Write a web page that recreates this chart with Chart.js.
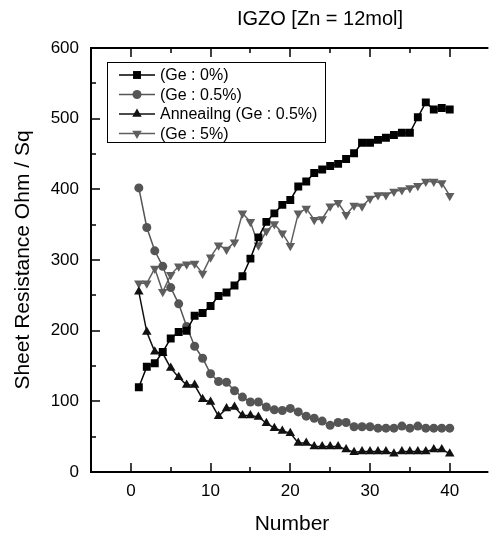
<!DOCTYPE html>
<html><head><meta charset="utf-8">
<script src="https://cdn.jsdelivr.net/npm/chart.js@4.4.1/dist/chart.umd.min.js"></script>
<style>
html,body{margin:0;padding:0;overflow:hidden;background:#fff;width:492px;height:540px}
</style>
</head><body><canvas id="c" width="492" height="540"></canvas>
<script>
const titleText = 'IGZO [Zn = 12mol]';
const xTitle = 'Number';
const yTitle = 'Sheet Resistance Ohm / Sq';
const seriesLabels = ['(Ge : 0%)', '(Ge : 0.5%)', 'Anneailng (Ge : 0.5%)', '(Ge : 5%)'];
const numbers = [1,2,3,4,5,6,7,8,9,10,11,12,13,14,15,16,17,18,19,20,21,22,23,24,25,26,27,28,29,30,31,32,33,34,35,36,37,38,39,40];
const ge0 = [120,149,154,170,189,198,200,221,225,235,249,254,264,277,302,332,354,366,378,385,404,411,423,428,433,436,443,451,466,466,470,473,477,480,480,502,523,513,515,513];
const ge05 = [402,346,313,291,261,238,206,178,161,139,128,127,115,106,99,99,92,88,87,90,85,79,76,72,66,70,70,64,64,64,62,62,62,65,62,65,62,62,62,62];
const anneal05 = [255,198,170,168,147,134,123,123,103,99,79,90,92,80,80,78,69,62,58,55,41,41,36,36,36,36,32,28,29,29,29,29,26,29,29,29,29,32,32,26];
const ge5 = [267,267,288,255,279,291,294,295,281,304,321,315,325,366,354,321,341,351,338,320,366,373,357,358,376,381,364,377,376,387,392,392,397,399,402,405,411,411,409,391];
const xTicks = [0,10,20,30,40];
const yTicks = [0,100,200,300,400,500,600];

const FONT = '"Liberation Sans", Arial, sans-serif';
const pts = arr => numbers.map((n,i)=>({x:n,y:arr[i]}));

function ds(label, arr, color, style, radius, rotation){
  return {label, data: pts(arr), borderColor: color, backgroundColor: color,
    pointBackgroundColor: color, pointBorderColor: color, pointStyle: style,
    pointRadius: radius, pointBorderWidth: 0, pointRotation: rotation || 0,
    borderWidth: 1.5, tension: 0, fill: false};
}

const framePlugin = {
  id: 'frame',
  beforeDatasetsDraw(chart){
    const {ctx, chartArea: a, scales: {x, y}} = chart;
    ctx.save();
    ctx.strokeStyle = '#000';
    ctx.lineWidth = 2;
    ctx.beginPath();
    ctx.moveTo(a.right + 2, a.top); ctx.lineTo(a.left, a.top);
    ctx.lineTo(a.left, a.bottom); ctx.lineTo(a.right + 2, a.bottom);
    ctx.stroke();
    ctx.lineWidth = 1.5;
    ctx.beginPath();
    const xs = x.ticks.map(t=>t.value);
    const xMinor = xs.map(v=>v+5).concat([xs[0]-5]);
    xs.forEach(v=>{const p=Math.round(x.getPixelForValue(v));
      ctx.moveTo(p,a.bottom); ctx.lineTo(p,a.bottom-9); ctx.moveTo(p,a.top); ctx.lineTo(p,a.top+9);});
    xMinor.forEach(v=>{ if(v<=x.min||v>=x.max) return; const p=Math.round(x.getPixelForValue(v));
      ctx.moveTo(p,a.bottom); ctx.lineTo(p,a.bottom-5); ctx.moveTo(p,a.top); ctx.lineTo(p,a.top+5);});
    const ys = y.ticks.map(t=>t.value);
    ys.forEach(v=>{const p=Math.round(y.getPixelForValue(v));
      ctx.moveTo(a.left,p); ctx.lineTo(a.left+9,p);});
    ys.forEach(v=>{const m=v+50; if(m>=y.max) return; const p=Math.round(y.getPixelForValue(m));
      ctx.moveTo(a.left,p); ctx.lineTo(a.left+5,p);});
    ctx.stroke();
    ctx.restore();
  },
  afterDraw(chart){
    const {ctx, chartArea: a} = chart;
    ctx.save();
    ctx.fillStyle = '#000';
    ctx.textAlign = 'center';
    ctx.textBaseline = 'middle';
    ctx.font = '20px ' + FONT;
    ctx.fillText(titleText, 320, 19);
    ctx.font = '21px ' + FONT;
    ctx.fillText(xTitle, 292, 524);
    ctx.save();
    ctx.translate(23, (a.top + a.bottom)/2);
    ctx.rotate(-Math.PI/2);
    ctx.fillText(yTitle, 0, 0);
    ctx.restore();
    // legend
    ctx.fillStyle = '#fff';
    ctx.fillRect(107.5, 62.5, 218, 80);
    ctx.strokeStyle = '#000';
    ctx.lineWidth = 1;
    ctx.strokeRect(107.5, 62.5, 218, 80);
    ctx.font = '16px ' + FONT;
    ctx.textAlign = 'left';
    chart.data.datasets.forEach((d, i)=>{
      const yy = 75 + i*19.5;
      ctx.strokeStyle = d.borderColor;
      ctx.lineWidth = 1.5;
      ctx.beginPath(); ctx.moveTo(119, yy); ctx.lineTo(155, yy); ctx.stroke();
      ctx.fillStyle = d.pointBackgroundColor;
      Chart.helpers.drawPoint(ctx, {pointStyle: d.pointStyle, radius: d.pointRadius, rotation: d.pointRotation, borderWidth: 0}, 137, yy);
      ctx.fillStyle = '#000';
      ctx.fillText(d.label, 160, yy + 1);
    });
    ctx.restore();
  }
};

new Chart(document.getElementById('c'), {
  type: 'line',
  data: { datasets: [
    ds(seriesLabels[0], ge0, '#000000', 'rect', 5.6, 0),
    ds(seriesLabels[1], ge05, '#555555', 'circle', 4.5, 0),
    ds(seriesLabels[2], anneal05, '#111111', 'triangle', 5.5, 0),
    ds(seriesLabels[3], ge5, '#5e5e5e', 'triangle', 5.5, 180)
  ]},
  options: {
    responsive: false, animation: false,
    layout: { padding: { top: 48, left: 0, right: 0, bottom: 0 } },
    plugins: { legend: { display: false }, tooltip: { enabled: false } },
    scales: {
      x: { type: 'linear', min: -5, max: 44.6,
        afterBuildTicks: s => { s.ticks = xTicks.map(v=>({value:v})); },
        afterFit: s => { s.height = 68; },
        grid: { display: false }, border: { display: false },
        ticks: { color: '#000', font: { family: FONT, size: 17 }, padding: 1, maxRotation: 0 } },
      y: { type: 'linear', min: 0, max: 600,
        afterBuildTicks: s => { s.ticks = yTicks.map(v=>({value:v})); },
        afterFit: s => { s.width = 91; },
        grid: { display: false }, border: { display: false },
        ticks: { color: '#000', font: { family: FONT, size: 17 }, padding: 4 } }
    }
  },
  plugins: [framePlugin]
});
</script>
</body></html>
